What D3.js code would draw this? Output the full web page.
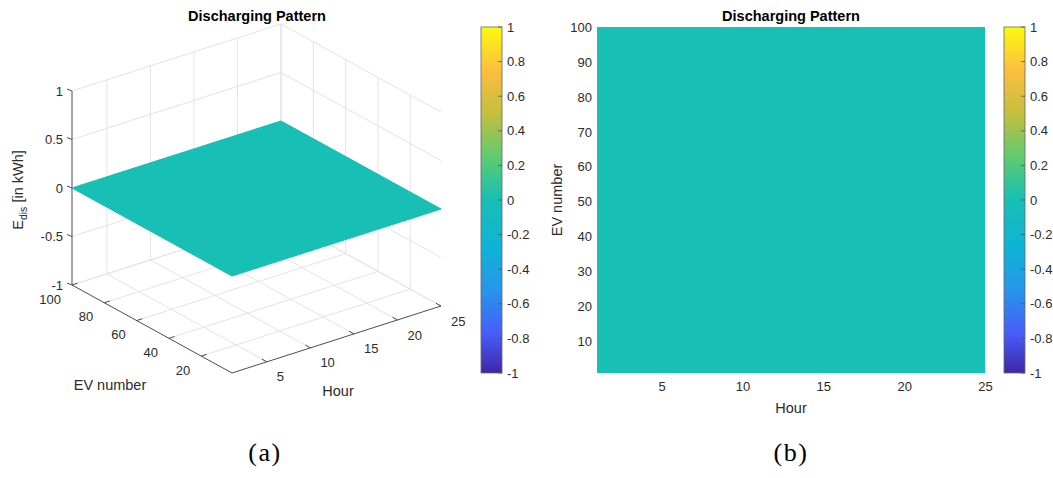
<!DOCTYPE html>
<html>
<head>
<meta charset="utf-8">
<script src="https://cdn.jsdelivr.net/npm/d3@7"></script>
<style>
  body { margin: 0; background: #fff; }
  text { font-family: "Liberation Sans", Arial, Helvetica, sans-serif; fill: #2b2b2b; }
</style>
</head>
<body>
<div id="chart"></div>
<script>
// ---- data ----
var hours = [1, 2, 3, 4, 5, 6, 7, 8, 9, 10, 11, 12, 13, 14, 15, 16, 17, 18, 19, 20, 21, 22, 23, 24, 25];
// discharged energy per hour (kWh) - the same for every EV 1..100
var eDisByHour = [0, 0, 0, 0, 0, 0, 0, 0, 0, 0, 0, 0, 0, 0, 0, 0, 0, 0, 0, 0, 0, 0, 0, 0, 0];
var evRange = [1, 100];
var zRange = [-1, 1];
var colorRange = [-1, 1];

var hourTicks = [5, 10, 15, 20, 25];
var evTicks3d = [20, 40, 60, 80, 100];
var evTicks2d = [10, 20, 30, 40, 50, 60, 70, 80, 90, 100];
var zTicks = [-1, -0.5, 0, 0.5, 1];
var zTickLabels = ["-1", "-0.5", "0", "0.5", "1"];
var cbarTicks = [-1, -0.8, -0.6, -0.4, -0.2, 0, 0.2, 0.4, 0.6, 0.8, 1];
var cbarTickLabels = ["-1", "-0.8", "-0.6", "-0.4", "-0.2", "0", "0.2", "0.4", "0.6", "0.8", "1"];

// parula-like colormap
var parulaStops = [0, 0.11, 0.24, 0.365, 0.5, 0.62, 0.75, 0.875, 1];
var parulaColors = ["#3e26a8", "#475bf9", "#2796eb", "#0db4d6", "#17bfb4", "#5bcb72", "#c5be3e", "#fdbe3f", "#f9fb0e"];

var width = 1053, height = 478;

var svg = d3.select("#chart")
  .append("svg")
    .attr("width", width)
    .attr("height", height);

var color = d3.scaleLinear()
  .domain(parulaStops.map(function(s) { return colorRange[0] + s * (colorRange[1] - colorRange[0]); }))
  .range(parulaColors)
  .interpolate(d3.interpolateRgb);

// ================= (a) 3D view =================
var origin = [232, 373];          // (hour min, ev min, z min)
var uHour = [209, -67], vEv = [-160, -88], wZ = [0, -194];
var hS = d3.scaleLinear().domain(d3.extent(hours)).range([0, 1]);
var eS = d3.scaleLinear().domain(evRange).range([0, 1]);
var zS = d3.scaleLinear().domain(zRange).range([0, 1]);

function proj(h, e, z) {
  var a = hS(h), b = eS(e), c = zS(z);
  return [origin[0] + a * uHour[0] + b * vEv[0] + c * wZ[0],
          origin[1] + a * uHour[1] + b * vEv[1] + c * wZ[1]];
}

var hMin = hours[0], hMax = hours[hours.length - 1];
var eMin = evRange[0], eMax = evRange[1];
var zMin = zRange[0], zMax = zRange[1];

var g3 = svg.append("g");

function seg(g, p, q, stroke, sw) {
  g.append("line")
    .attr("x1", p[0]).attr("y1", p[1])
    .attr("x2", q[0]).attr("y2", q[1])
    .attr("stroke", stroke)
    .attr("stroke-width", sw);
}

// grid lines on back walls and floor
var gridCol = "#e3e3e3";
hourTicks.forEach(function(h) {
  seg(g3, proj(h, eMax, zMin), proj(h, eMax, zMax), gridCol, 1);
  seg(g3, proj(h, eMin, zMin), proj(h, eMax, zMin), gridCol, 1);
});
evTicks3d.forEach(function(e) {
  seg(g3, proj(hMax, e, zMin), proj(hMax, e, zMax), gridCol, 1);
  seg(g3, proj(hMin, e, zMin), proj(hMax, e, zMin), gridCol, 1);
});
zTicks.forEach(function(z) {
  seg(g3, proj(hMin, eMax, z), proj(hMax, eMax, z), gridCol, 1);
  seg(g3, proj(hMax, eMin, z), proj(hMax, eMax, z), gridCol, 1);
});

// axis lines
var axCol = "#4d4d4d";
seg(g3, proj(hMin, eMax, zMin), proj(hMin, eMax, zMax), axCol, 1);
seg(g3, proj(hMin, eMin, zMin), proj(hMin, eMax, zMin), axCol, 1);
seg(g3, proj(hMin, eMin, zMin), proj(hMax, eMin, zMin), axCol, 1);

// ticks
zTicks.forEach(function(z, i) {
  var p = proj(hMin, eMax, z);
  seg(g3, p, [p[0] - 5, p[1] - 2], axCol, 1);
  g3.append("text")
    .attr("x", p[0] - 9).attr("y", p[1])
    .attr("dy", "0.35em")
    .attr("text-anchor", "end")
    .style("font-size", "13px")
    .text(zTickLabels[i]);
});
evTicks3d.forEach(function(e) {
  var p = proj(hMin, e, zMin);
  seg(g3, p, [p[0] + 5.5, p[1] - 1.8], axCol, 1);
  g3.append("text")
    .attr("x", p[0] - 11).attr("y", p[1] + 14)
    .attr("dy", "0.35em")
    .attr("text-anchor", "end")
    .style("font-size", "13px")
    .text(e);
});
hourTicks.forEach(function(h) {
  var p = proj(h, eMin, zMin);
  seg(g3, p, [p[0] - 5, p[1] - 2.8], axCol, 1);
  g3.append("text")
    .attr("x", p[0] + 10).attr("y", p[1] + 15)
    .attr("dy", "0.35em")
    .attr("text-anchor", "start")
    .style("font-size", "13px")
    .text(h);
});

// surface (flat at E_dis values)
for (var i = 0; i < hours.length - 1; i++) {
  var h0 = hours[i], h1 = hours[i + 1];
  var z0 = eDisByHour[i], z1 = eDisByHour[i + 1];
  var pts = [proj(h0, eMin, z0), proj(h1, eMin, z1), proj(h1, eMax, z1), proj(h0, eMax, z0)];
  var c = color((z0 + z1) / 2);
  g3.append("polygon")
    .attr("points", pts.map(function(p) { return p.join(","); }).join(" "))
    .attr("fill", c)
    .attr("stroke", c)
    .attr("stroke-width", 1)
    .attr("stroke-linejoin", "bevel");
}

// labels
g3.append("text")
  .attr("x", 257).attr("y", 21)
  .attr("text-anchor", "middle")
  .style("font-size", "14.5px")
  .style("font-weight", "bold")
  .style("fill", "#000")
  .text("Discharging Pattern");

g3.append("text")
  .attr("x", 110).attr("y", 390)
  .attr("text-anchor", "middle")
  .style("font-size", "14.5px")
  .text("EV number");

g3.append("text")
  .attr("x", 338).attr("y", 396)
  .attr("text-anchor", "middle")
  .style("font-size", "14.5px")
  .text("Hour");

var zl = g3.append("text")
  .attr("transform", "translate(23,190) rotate(-90)")
  .attr("text-anchor", "middle")
  .style("font-size", "14.5px");
zl.append("tspan").text("E");
zl.append("tspan").attr("dy", 4).style("font-size", "10.5px").text("dis");
zl.append("tspan").attr("dy", -4).text(" [in kWh]");

// ================= (b) 2D view =================
var x = d3.scaleLinear().domain(d3.extent(hours)).range([597, 985]);
var y = d3.scaleLinear().domain(evRange).range([373, 27]);

var g2 = svg.append("g");

for (var j = 0; j < hours.length - 1; j++) {
  g2.append("rect")
    .attr("x", x(hours[j]))
    .attr("y", y(eMax))
    .attr("width", x(hours[j + 1]) - x(hours[j]))
    .attr("height", y(eMin) - y(eMax))
    .attr("fill", color((eDisByHour[j] + eDisByHour[j + 1]) / 2))
    .attr("shape-rendering", "crispEdges");
}

var xAxis = g2.append("g")
  .attr("transform", "translate(0," + y(eMin) + ")")
  .call(d3.axisBottom(x).tickValues(hourTicks).tickSize(0).tickPadding(9));
var yAxis = g2.append("g")
  .attr("transform", "translate(" + x(hMin) + ",0)")
  .call(d3.axisLeft(y).tickValues(evTicks2d).tickSize(0).tickPadding(5));
[xAxis, yAxis].forEach(function(a) {
  a.select(".domain").remove();
  a.selectAll("text")
    .style("font-family", "'Liberation Sans', Arial, sans-serif")
    .style("font-size", "13px")
    .style("fill", "#2b2b2b");
});

g2.append("text")
  .attr("x", 791).attr("y", 21)
  .attr("text-anchor", "middle")
  .style("font-size", "14.5px")
  .style("font-weight", "bold")
  .style("fill", "#000")
  .text("Discharging Pattern");

g2.append("text")
  .attr("x", 791).attr("y", 413)
  .attr("text-anchor", "middle")
  .style("font-size", "14.5px")
  .text("Hour");

g2.append("text")
  .attr("transform", "translate(562,200) rotate(-90)")
  .attr("text-anchor", "middle")
  .style("font-size", "14.5px")
  .text("EV number");

// ================= colorbars =================
var defs = svg.append("defs");
var grad = defs.append("linearGradient")
  .attr("id", "parula")
  .attr("x1", 0).attr("y1", 1).attr("x2", 0).attr("y2", 0);
d3.range(0, 65).forEach(function(k) {
  var t = k / 64;
  grad.append("stop")
    .attr("offset", t)
    .attr("stop-color", color(colorRange[0] + t * (colorRange[1] - colorRange[0])));
});

function colorbar(x0, labelX) {
  var cy = d3.scaleLinear().domain(colorRange).range([373, 27]);
  var g = svg.append("g");
  g.append("rect")
    .attr("x", x0).attr("y", cy(colorRange[1]))
    .attr("width", 21).attr("height", cy(colorRange[0]) - cy(colorRange[1]))
    .attr("fill", "url(#parula)")
    .attr("stroke", "#666")
    .attr("stroke-width", 0.8);
  cbarTicks.forEach(function(t, i) {
    g.append("line")
      .attr("x1", x0 + 21).attr("x2", x0 + 17)
      .attr("y1", cy(t)).attr("y2", cy(t))
      .attr("stroke", "#555")
      .attr("stroke-width", 0.8);
    g.append("text")
      .attr("x", labelX).attr("y", cy(t))
      .attr("dy", "0.35em")
      .style("font-size", "13px")
      .text(cbarTickLabels[i]);
  });
}
colorbar(481, 507);
colorbar(1004, 1030);

// ================= sub captions =================
[["(a)", 265], ["(b)", 791]].forEach(function(d) {
  svg.append("text")
    .attr("x", d[1]).attr("y", 461)
    .attr("text-anchor", "middle")
    .style("font-family", "'Liberation Serif', 'DejaVu Serif', serif")
    .style("font-size", "26px")
    .style("letter-spacing", "1.5px")
    .style("fill", "#000")
    .text(d[0]);
});
</script>
</body>
</html>
